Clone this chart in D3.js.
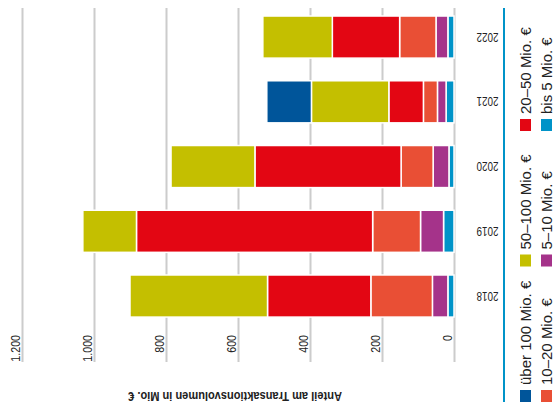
<!DOCTYPE html>
<html lang="de">
<head>
<meta charset="utf-8">
<title>Transaktionsvolumen</title>
<script src="https://d3js.org/d3.v7.min.js"></script>
<style>
  body { margin: 0; background: #fff; }
  svg text { fill: #222; font-family: 'Liberation Sans', Arial, sans-serif; }
</style>
</head>
<body>
<div id="chart"></div>
<script>
var years    = ["2018", "2019", "2020", "2021", "2022"];
var bis5     = [17, 29, 14, 22, 17];
var m5_10    = [43, 64, 44, 24, 33];
var m10_20   = [171, 133, 89, 39, 101];
var m20_50   = [287, 656, 406, 96, 187];
var m50_100  = [382, 149, 233, 215, 193];
var ueber100 = [0, 0, 0, 124, 0];
var tickVals = [0, 200, 400, 600, 800, 1000, 1200];

var keys   = ["bis5", "m5_10", "m10_20", "m20_50", "m50_100", "ueber100"];
var labels = {
  ueber100: "über 100 Mio. €", m50_100: "50–100 Mio. €", m20_50: "20–50 Mio. €",
  m10_20: "10–20 Mio. €", m5_10: "5–10 Mio. €", bis5: "bis 5 Mio. €"
};
var colors = {
  ueber100: "#00559a", m50_100: "#c4bf00", m20_50: "#e30613",
  m10_20: "#e94f35", m5_10: "#a5338a", bis5: "#0093c8"
};

var rows = years.map(function(y, i) {
  return {year: y, bis5: bis5[i], m5_10: m5_10[i], m10_20: m10_20[i],
          m20_50: m20_50[i], m50_100: m50_100[i], ueber100: ueber100[i]};
});

var width = 555, height = 417;
var squeeze = " scale(0.82,1)";   // narrow look

var svg = d3.select("#chart").append("svg")
  .attr("width", width).attr("height", height);

var x = d3.scaleLinear().domain([0, 1200]).range([454, 22]);
var y = d3.scaleBand()
  .domain(years.slice().reverse())
  .range([4.7, 328.4])
  .paddingInner(0.35).paddingOuter(0.175);

var de = d3.formatLocale({decimal: ",", thousands: ".", grouping: [3], currency: ["", " €"]});

// grid + tick labels
var axis = svg.append("g")
  .attr("transform", "translate(0,8)")
  .call(d3.axisBottom(x).tickValues(tickVals).tickSize(354).tickFormat(de.format(",")));
axis.select(".domain").remove();
axis.selectAll(".tick line").attr("stroke", "#cccccc").attr("stroke-width", 2);
axis.selectAll(".tick text")
  .attr("x", 0).attr("y", 0).attr("dy", null)
  .attr("transform", "translate(-2.5,327) rotate(-90)" + squeeze)
  .attr("text-anchor", "end")
  .style("font-family", "'Liberation Sans', Arial, sans-serif").style("font-size", "13px")
  .attr("fill", "#222");

// bars
var series = d3.stack().keys(keys)(rows);
svg.append("g").selectAll("g")
  .data(series).join("g")
  .attr("fill", function(d) { return colors[d.key]; })
  .selectAll("rect")
  .data(function(d) { return d; }).join("rect")
  .attr("x", function(d) { return x(d[1]); })
  .attr("width", function(d) { return Math.max(0, x(d[0]) - x(d[1])); })
  .attr("y", function(d) { return y(d.data.year); })
  .attr("height", y.bandwidth())
  .attr("stroke", "#fff").attr("stroke-width", 1.5);

// year labels (upside down)
svg.append("g").selectAll("text")
  .data(years).join("text")
  .attr("transform", function(d) {
    return "translate(487.5," + (y(d) + y.bandwidth() / 2) + ") rotate(180)" + squeeze;
  })
  .attr("text-anchor", "middle")
  .attr("dominant-baseline", "central")
  .style("font-size", "12px")
  .text(function(d) { return d; });

// axis title (upside down)
svg.append("text")
  .attr("transform", "translate(235,396.5) rotate(180)" + squeeze)
  .attr("text-anchor", "middle")
  .attr("dominant-baseline", "central")
  .style("font-size", "13.5px").style("font-weight", "bold")
  .text("Anteil am Transaktionsvolumen in Mio. €");

// legend
svg.append("line")
  .attr("x1", 504).attr("x2", 504).attr("y1", 8).attr("y2", 402)
  .attr("stroke", "#0093c8").attr("stroke-width", 2);

var legendOrder = ["ueber100", "m50_100", "m20_50", "m10_20", "m5_10", "bis5"];
var leg = svg.append("g").selectAll("g")
  .data(legendOrder).join("g")
  .attr("transform", function(d, i) {
    var col = Math.floor(i / 3), row = i % 3;
    return "translate(" + (520 + col * 21) + "," + (390 - row * 135.5) + ")";
  });
leg.append("rect")
  .attr("width", 11).attr("height", 12)
  .attr("fill", function(d) { return colors[d]; });
leg.append("text")
  .attr("transform", "translate(11,-5) rotate(-90)")
  .style("font-size", "15px")
  .text(function(d) { return labels[d]; });
</script>
</body>
</html>
